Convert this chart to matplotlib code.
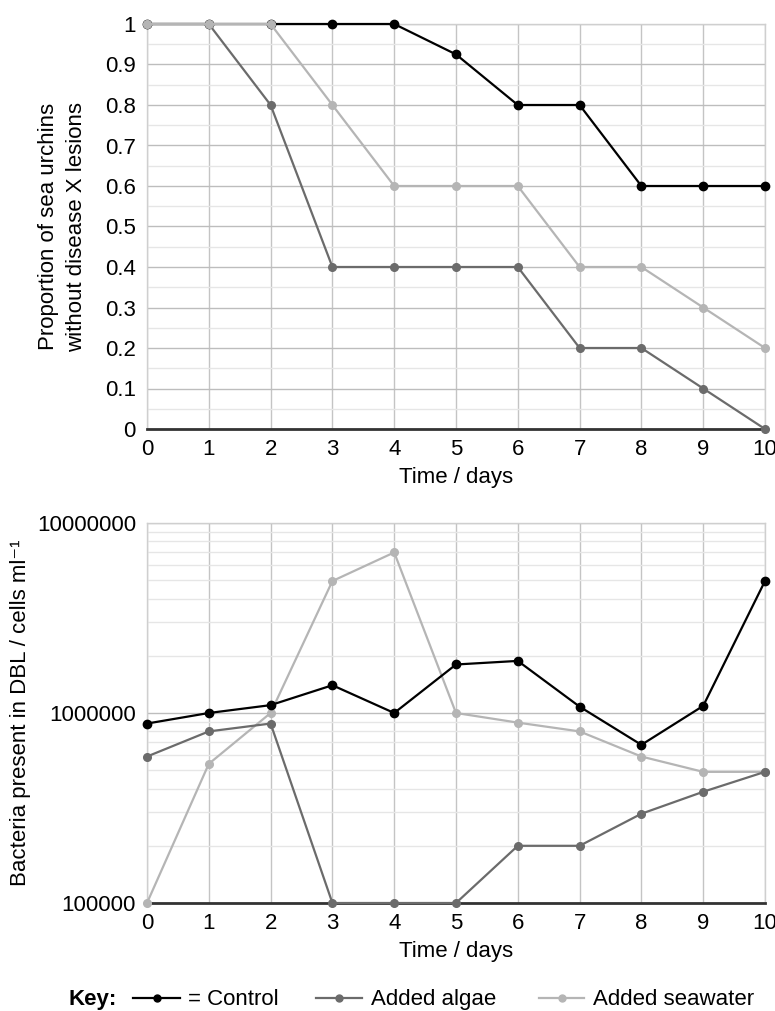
import numpy as np
import matplotlib
matplotlib.use("Agg")
import matplotlib.pyplot as plt
from matplotlib.lines import Line2D
from matplotlib.ticker import FixedLocator, NullFormatter, LogLocator


plt.rcParams['font.family'] = ['Liberation Sans', 'DejaVu Sans']

days = np.arange(0, 11)

# proportion sans lesions
prop_control = [1, 1, 1, 1, 1, 0.925, 0.8, 0.8, 0.6, 0.6, 0.6]
prop_algae = [1, 1, 0.8, 0.4, 0.4, 0.4, 0.4, 0.2, 0.2, 0.1, 0]
prop_seawater = [1, 1, 1, 0.8, 0.6, 0.6, 0.6, 0.4, 0.4, 0.3, 0.2]

# bacteries dans le DBL (cells / ml)
bact_control = [880000, 1000000, 1100000, 1400000, 1000000, 1800000, 1880000,
                1080000, 680000, 1090000, 4950000]
bact_algae = [590000, 800000, 880000, 100000, 100000, 100000, 200000,
              200000, 295000, 385000, 490000]
bact_seawater = [100000, 540000, 1000000, 4950000, 7000000, 1000000, 890000,
                 800000, 590000, 490000, 490000]

series_labels = ['= Control', 'Added algae', 'Added seawater']

c_control = '#000000'
c_algae = '#6b6b6b'
c_seawater = '#b5b5b5'

FS = 16
W, H = 775, 1011

fig = plt.figure(figsize=(W/100, H/100), dpi=100)
ax1 = fig.add_axes([147/W, 1-429/H, (765-147)/W, (429-24)/H])
ax2 = fig.add_axes([147/W, 1-903/H, (765-147)/W, (903-523)/H])


def style_axes(ax):
    ax.set_xlim(0, 10)
    ax.set_xticks(days)
    ax.tick_params(axis='both', which='both', length=0, labelsize=FS, colors='black')
    ax.tick_params(axis='x', pad=7)
    ax.tick_params(axis='y', pad=8)
    ax.grid(True, axis='x', color='#c4c4c4', lw=1.0)
    ax.grid(True, axis='y', which='major', color='#bdbdbd', lw=1.0)
    ax.grid(True, axis='y', which='minor', color='#e6e6e6', lw=1.0)
    ax.set_axisbelow(True)
    for s in ['top', 'right', 'left']:
        ax.spines[s].set_color('#cfcfcf')
        ax.spines[s].set_linewidth(1.0)
    ax.spines['bottom'].set_color('#333333')
    ax.spines['bottom'].set_linewidth(2.0)
    ax.spines['bottom'].set_zorder(2.5)
    ax.set_xlabel('Time / days', fontsize=FS, labelpad=5)


def plot_series(ax, y, color, ms):
    ax.plot(days, y, color=color, lw=1.6, marker='o', ms=ms, clip_on=False, zorder=3)


# ---- graphe du haut
plot_series(ax1, prop_control, c_control, 6)
plot_series(ax1, prop_algae, c_algae, 5.5)
plot_series(ax1, prop_seawater, c_seawater, 5.5)
ax1.set_ylim(0, 1)
ax1.set_yticks(np.arange(0, 11) / 10)
ax1.set_yticklabels(['0', '0.1', '0.2', '0.3', '0.4', '0.5', '0.6', '0.7', '0.8', '0.9', '1'])
ax1.yaxis.set_minor_locator(FixedLocator(np.arange(0.05, 1, 0.1)))
style_axes(ax1)
ax1.set_ylabel('Proportion of sea urchins\nwithout disease X lesions', fontsize=FS,
               labelpad=13, linespacing=1.45)

# ---- graphe du bas (log)
plot_series(ax2, bact_seawater, c_seawater, 5.5)
plot_series(ax2, bact_algae, c_algae, 5.5)
plot_series(ax2, bact_control, c_control, 6)
ax2.set_yscale('log')
ax2.set_ylim(1e5, 1e7)
ax2.set_yticks([1e5, 1e6, 1e7])
ax2.set_yticklabels(['100000', '1000000', '10000000'])
ax2.yaxis.set_minor_locator(LogLocator(base=10, subs=np.arange(2, 10)))
ax2.yaxis.set_minor_formatter(NullFormatter())
style_axes(ax2)
ax2.set_ylabel('Bacteria present in DBL / cells ml\u207b\u00b9', fontsize=FS, labelpad=4)

# ---- légende (à la main)
ky = 1 - 998/H
kb = 1 - 1005/H  # ligne de base du texte
fig.text(68/W, kb, 'Key:', fontsize=FS, fontweight='bold', va='baseline', ha='left')
key_x = [(133, 180, 188), (316, 362, 371), (539, 584, 593)]
for (x0, x1, xt), c, lab in zip(key_x, [c_control, c_algae, c_seawater], series_labels):
    fig.add_artist(Line2D([x0/W, x1/W], [ky, ky], color=c, lw=1.6))
    fig.add_artist(Line2D([(x0+x1)/2/W], [ky], color=c, marker='o', ms=5, lw=0))
    fig.text(xt/W, kb, lab, fontsize=FS, va='baseline', ha='left')

fig.savefig('out.png', dpi=100)
